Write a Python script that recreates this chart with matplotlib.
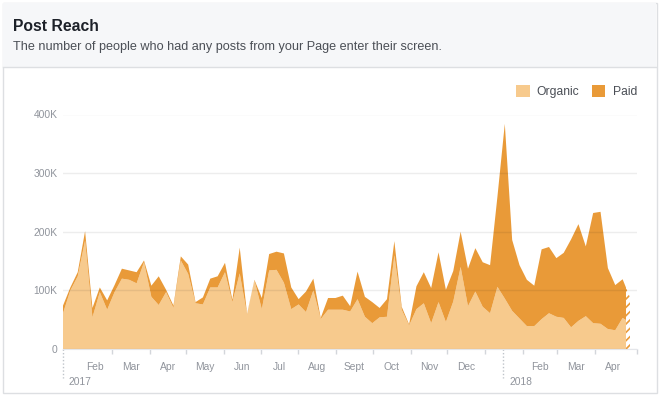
import matplotlib
matplotlib.use('Agg')
import matplotlib.pyplot as plt
import matplotlib.dates as mdates
import matplotlib.transforms as mtransforms
from matplotlib.patches import Rectangle, Patch
from matplotlib.ticker import FuncFormatter
import numpy as np
import pandas as pd

plt.rcParams['font.family'] = ['Liberation Sans', 'DejaVu Sans']
plt.rcParams['hatch.linewidth'] = 1.2

# reach per period, in thousands
organic = [61, 100, 124, 185, 54, 97, 67, 97, 120, 118, 112, 148, 89, 75, 97, 70,
           151, 128, 78, 76, 105, 105, 131, 80, 129, 59, 117, 68, 134, 135, 113, 68,
           76, 63, 100, 51, 67, 67, 67, 64, 85, 55, 44, 54, 55, 160, 67, 40,
           68, 78, 44, 80, 46, 81, 140, 73, 98, 72, 61, 106, 86, 65, 52, 39,
           39, 51, 61, 55, 53, 37, 48, 56, 44, 43, 34, 32, 53, 45]
paid = [13, 5, 7, 16, 16, 8, 16, 12, 17, 16, 19, 3, 19, 49, 4, 4,
        7, 16, 2, 12, 15, 19, 16, 4, 44, 1, 1, 19, 28, 31, 50, 37,
        9, 35, 20, 2, 20, 20, 24, 9, 47, 34, 36, 16, 30, 24, 5, 2,
        39, 53, 60, 85, 55, 52, 60, 64, 74, 76, 82, 154, 298, 121, 91, 79,
        69, 119, 113, 100, 111, 150, 165, 119, 188, 191, 104, 77, 66, 43]

first_day = '2017-01-20'
last_day = '2018-04-30'
axis_end = '2018-05-06'
month_ticks = pd.date_range('2017-03-01', '2018-04-01', freq='MS')
month_labels = ['Feb', 'Mar', 'Apr', 'May', 'Jun', 'Jul', 'Aug', 'Sept', 'Oct',
                'Nov', 'Dec', 'Feb', 'Mar', 'Apr']
label_months = ['2017-02', '2017-03', '2017-04', '2017-05', '2017-06', '2017-07',
                '2017-08', '2017-09', '2017-10', '2017-11', '2017-12',
                '2018-02', '2018-03', '2018-04']
years = ['2017', '2018']
year_marks = ['2017-01-20', '2018-01-16']
yticks = [0, 100, 200, 300, 400]

title = 'Post Reach'
subtitle = 'The number of people who had any posts from your Page enter their screen.'

c_org = '#f7ca8d'
c_paid = '#e99a38'
c_axis = '#90949c'

W, H = 661, 396


def fx(px):
    return px / W


def fy(py):
    return 1 - py / H


dates = pd.date_range(first_day, last_day, periods=len(organic))
xs = mdates.date2num(dates)
org = np.array(organic) * 1000
pd_ = np.array(paid) * 1000

fig = plt.figure(figsize=(W / 100, H / 100), dpi=100)
fig.patch.set_facecolor('white')

# card + header (behind the axes)
fig.add_artist(Rectangle((fx(2.5), fy(392.5)), fx(654), 390 / H, transform=fig.transFigure,
                         facecolor='white', edgecolor='#dddfe2', lw=1, zorder=-3))
fig.add_artist(Rectangle((fx(3), fy(67)), fx(653), 64 / H, transform=fig.transFigure,
                         facecolor='#f6f7f9', edgecolor='none', zorder=-2))
fig.add_artist(plt.Line2D([fx(3), fx(656)], [fy(67), fy(67)], transform=fig.transFigure,
                          color='#dddfe2', lw=1, zorder=-1))
fig.text(fx(13), fy(31), title, fontsize=11.3, fontweight='bold', color='#1d2129', va='baseline')
fig.text(fx(13), fy(50), subtitle, fontsize=9.1, color='#4b4f56', va='baseline')

ax = fig.add_axes([fx(63), fy(349), fx(637.3) - fx(63), (349 - 114.5) / H])
ax.set_facecolor('none')

cut = xs[-2] + 0.45 * (xs[-1] - xs[-2])
polys = ax.stackplot(xs, org, pd_, colors=[c_org, c_paid], lw=0)
for p in polys:
    p.set_clip_path(Rectangle((xs[0], 0), cut - xs[0], 1e6, transform=ax.transData))
hat = ax.fill_between(xs, 0, org + pd_, facecolor='white', edgecolor=c_paid, hatch='////', lw=0)
hat.set_clip_path(Rectangle((cut, 0), xs[-1] - cut, 1e6, transform=ax.transData))

ax.set_xlim(xs[0], mdates.date2num(pd.Timestamp(axis_end)))
ax.set_ylim(0, 400000)

for s in ['left', 'right', 'top']:
    ax.spines[s].set_visible(False)
ax.spines['bottom'].set_color('#e4e6ea')

ax.set_yticks([v * 1000 for v in yticks])
ax.yaxis.set_major_formatter(FuncFormatter(lambda v, _: '0' if v == 0 else '%dK' % (v / 1000)))
ax.tick_params(axis='y', length=0, pad=4, labelsize=7.4, labelcolor=c_axis)
ax.yaxis.grid(True, color='black', alpha=0.07, lw=1)

major = list(mdates.date2num(month_ticks)) + [mdates.date2num(pd.Timestamp(axis_end))]
ax.set_xticks(major)
ax.set_xticklabels([])
mids = []
for m in label_months:
    start = pd.Timestamp(m + '-01')
    end = start + pd.offsets.MonthBegin(1)
    mids.append(mdates.date2num(start + (end - start) / 2))
ax.set_xticks(mids, minor=True)
ax.set_xticklabels(month_labels, minor=True)
ax.tick_params(axis='x', which='major', length=3.5, color='#d3d6db', width=1)
ax.tick_params(axis='x', which='minor', length=0, pad=9, labelsize=7.4, labelcolor=c_axis)

trans = mtransforms.blended_transform_factory(ax.transData, ax.transAxes)
for yr, d in zip(years, year_marks):
    xd = mdates.date2num(pd.Timestamp(d))
    ax.plot([xd, xd], [0, -0.125], transform=trans, clip_on=False, color='#bec3c9',
            lw=1, ls=(0, (1, 1.5)))
    ax.annotate(yr, xy=(xd, 0), xycoords=trans, xytext=(4.3, -24), textcoords='offset points',
                va='center', ha='left', fontsize=7.4, color=c_axis)

fig.legend(handles=[Patch(facecolor=c_org, label='Organic'), Patch(facecolor=c_paid, label='Paid')],
           loc='center right', bbox_to_anchor=(fx(637), fy(91.5)), ncol=2, frameon=False,
           fontsize=8.7, handlelength=1.1, handleheight=1.1, handletextpad=0.6,
           columnspacing=1.05, borderaxespad=0, borderpad=0, labelcolor='#4b4f56')

fig.savefig('out.png', dpi=100, facecolor=fig.get_facecolor())
